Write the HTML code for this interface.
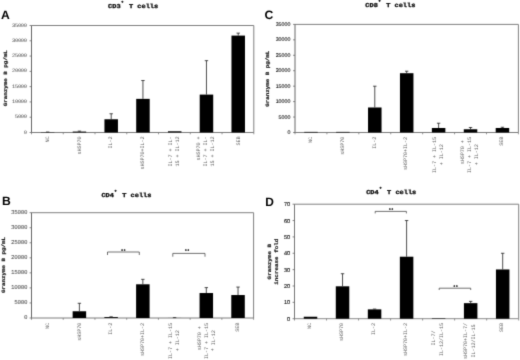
<!DOCTYPE html>
<html><head><meta charset="utf-8"><title>Granzyme B bar charts</title><style>
html,body{margin:0;padding:0;background:#fff;overflow:hidden}
svg{display:block;filter:grayscale(1)}
text{text-rendering:geometricPrecision}
</style></head><body>
<svg width="520" height="360" viewBox="0 0 520 360">
<defs><filter id="bl" x="0" y="0" width="520" height="360" filterUnits="userSpaceOnUse" color-interpolation-filters="sRGB"><feConvolveMatrix order="3" kernelMatrix="0.0144 0.0912 0.0144 0.0912 0.5776 0.0912 0.0144 0.0912 0.0144" edgeMode="duplicate"/></filter></defs>
<g filter="url(#bl)">
<rect x="-10" y="-10" width="540" height="380" fill="#fff"/>
<path d="M31.5 25.5H253.8V132.5" fill="none" stroke="#808080" stroke-width="1"/>
<path d="M31.5 25.5V133.0" fill="none" stroke="#666" stroke-width="1"/>
<path d="M31.0 132.5H253.8" fill="none" stroke="#7c7c7c" stroke-width="1"/>
<path d="M29.6 132.50H31.5" stroke="#666" stroke-width="0.8"/>
<text transform="translate(26.90 133.60) rotate(0.03) scale(0.1000 0.1)" x="-30.9" y="0" font-family='"Liberation Mono", monospace' font-weight="normal" font-size="53.9" fill="#444" xml:space="preserve" >0</text>
<path d="M29.6 117.21H31.5" stroke="#666" stroke-width="0.8"/>
<text transform="translate(26.90 118.31) rotate(0.03) scale(0.1000 0.1)" x="-119.1 -89.7 -60.3 -30.9" y="0" font-family='"Liberation Mono", monospace' font-weight="normal" font-size="53.9" fill="#444" xml:space="preserve" >5000</text>
<path d="M29.6 101.93H31.5" stroke="#666" stroke-width="0.8"/>
<text transform="translate(26.90 103.03) rotate(0.03) scale(0.1000 0.1)" x="-148.5 -119.1 -89.7 -60.3 -30.9" y="0" font-family='"Liberation Mono", monospace' font-weight="normal" font-size="53.9" fill="#444" xml:space="preserve" >10000</text>
<path d="M29.6 86.64H31.5" stroke="#666" stroke-width="0.8"/>
<text transform="translate(26.90 87.74) rotate(0.03) scale(0.1000 0.1)" x="-148.5 -119.1 -89.7 -60.3 -30.9" y="0" font-family='"Liberation Mono", monospace' font-weight="normal" font-size="53.9" fill="#444" xml:space="preserve" >15000</text>
<path d="M29.6 71.36H31.5" stroke="#666" stroke-width="0.8"/>
<text transform="translate(26.90 72.46) rotate(0.03) scale(0.1000 0.1)" x="-148.5 -119.1 -89.7 -60.3 -30.9" y="0" font-family='"Liberation Mono", monospace' font-weight="normal" font-size="53.9" fill="#444" xml:space="preserve" >20000</text>
<path d="M29.6 56.07H31.5" stroke="#666" stroke-width="0.8"/>
<text transform="translate(26.90 57.17) rotate(0.03) scale(0.1000 0.1)" x="-148.5 -119.1 -89.7 -60.3 -30.9" y="0" font-family='"Liberation Mono", monospace' font-weight="normal" font-size="53.9" fill="#444" xml:space="preserve" >25000</text>
<path d="M29.6 40.79H31.5" stroke="#666" stroke-width="0.8"/>
<text transform="translate(26.90 41.89) rotate(0.03) scale(0.1000 0.1)" x="-148.5 -119.1 -89.7 -60.3 -30.9" y="0" font-family='"Liberation Mono", monospace' font-weight="normal" font-size="53.9" fill="#444" xml:space="preserve" >30000</text>
<path d="M29.6 25.50H31.5" stroke="#666" stroke-width="0.8"/>
<text transform="translate(26.90 26.60) rotate(0.03) scale(0.1000 0.1)" x="-148.5 -119.1 -89.7 -60.3 -30.9" y="0" font-family='"Liberation Mono", monospace' font-weight="normal" font-size="53.9" fill="#444" xml:space="preserve" >35000</text>
<path d="M31.50 132.5V134.3" stroke="#777" stroke-width="0.8"/>
<path d="M63.26 132.5V134.3" stroke="#777" stroke-width="0.8"/>
<path d="M95.01 132.5V134.3" stroke="#777" stroke-width="0.8"/>
<path d="M126.77 132.5V134.3" stroke="#777" stroke-width="0.8"/>
<path d="M158.53 132.5V134.3" stroke="#777" stroke-width="0.8"/>
<path d="M190.29 132.5V134.3" stroke="#777" stroke-width="0.8"/>
<path d="M222.04 132.5V134.3" stroke="#777" stroke-width="0.8"/>
<path d="M253.80 132.5V134.3" stroke="#777" stroke-width="0.8"/>
<rect x="40.93" y="132.19" width="13.5" height="0.31" fill="#000"/>
<path d="M47.68 132.19V132.04M45.98 132.04H49.38" stroke="#222" stroke-width="0.8" fill="none"/>
<rect x="72.69" y="131.58" width="13.5" height="0.92" fill="#000"/>
<path d="M79.44 131.58V131.12M77.74 131.12H81.14" stroke="#222" stroke-width="0.8" fill="none"/>
<rect x="104.44" y="119.26" width="13.5" height="13.24" fill="#000"/>
<path d="M111.19 119.26V113.76M109.49 113.76H112.89" stroke="#222" stroke-width="0.8" fill="none"/>
<rect x="136.20" y="98.87" width="13.5" height="33.63" fill="#000"/>
<path d="M142.95 98.87V80.53M141.25 80.53H144.65" stroke="#222" stroke-width="0.8" fill="none"/>
<rect x="167.96" y="131.28" width="13.5" height="1.22" fill="#000"/>
<rect x="199.71" y="94.59" width="13.5" height="37.91" fill="#000"/>
<path d="M206.46 94.59V60.66M204.76 60.66H208.16" stroke="#222" stroke-width="0.8" fill="none"/>
<rect x="231.47" y="35.59" width="13.5" height="96.91" fill="#000"/>
<path d="M238.22 35.59V33.14M236.52 33.14H239.92" stroke="#222" stroke-width="0.8" fill="none"/>
<text transform="translate(48.98 136.40) rotate(-89.97) scale(0.1000 0.1)" x="-60.8 -30.8" y="0" font-family='"Liberation Mono", monospace' font-weight="normal" font-size="52.5" fill="#666" xml:space="preserve" >NC</text>
<text transform="translate(80.74 136.40) rotate(-89.97) scale(0.1000 0.1)" x="-180.7 -150.7 -120.7 -90.7 -60.7 -30.7" y="0" font-family='"Liberation Mono", monospace' font-weight="normal" font-size="52.5" fill="#666" xml:space="preserve" >sHSP70</text>
<text transform="translate(112.49 136.40) rotate(-89.97) scale(0.1000 0.1)" x="-120.7 -90.7 -60.7 -30.7" y="0" font-family='"Liberation Mono", monospace' font-weight="normal" font-size="52.5" fill="#666" xml:space="preserve" >IL-2</text>
<text transform="translate(144.25 136.40) rotate(-89.97) scale(0.1000 0.1)" x="-330.8 -300.8 -270.8 -240.8 -210.8 -180.8 -150.8 -120.8 -90.8 -60.8 -30.8" y="0" font-family='"Liberation Mono", monospace' font-weight="normal" font-size="52.5" fill="#666" xml:space="preserve" >sHSP70+IL-2</text>
<text transform="translate(171.96 136.40) rotate(-89.97) scale(0.1000 0.1)" x="-300.8 -270.8 -240.7 -210.7 -180.7 -150.7 -120.7 -90.7 -60.7 -30.7" y="0" font-family='"Liberation Mono", monospace' font-weight="normal" font-size="52.5" fill="#666" xml:space="preserve" >IL-7 + IL-</text>
<text transform="translate(178.86 136.40) rotate(-89.97) scale(0.1000 0.1)" x="-300.8 -270.8 -240.7 -210.7 -180.7 -150.7 -120.7 -90.7 -60.7 -30.7" y="0" font-family='"Liberation Mono", monospace' font-weight="normal" font-size="52.5" fill="#666" xml:space="preserve" >15 + IL-12</text>
<text transform="translate(200.26 136.40) rotate(-89.97) scale(0.1000 0.1)" x="-240.7 -210.7 -180.7 -150.7 -120.7 -90.7 -60.7 -30.7" y="0" font-family='"Liberation Mono", monospace' font-weight="normal" font-size="52.5" fill="#666" xml:space="preserve" >sHSP70 +</text>
<text transform="translate(207.16 136.40) rotate(-89.97) scale(0.1000 0.1)" x="-300.8 -270.8 -240.7 -210.7 -180.7 -150.7 -120.7 -90.7 -60.7 -30.7" y="0" font-family='"Liberation Mono", monospace' font-weight="normal" font-size="52.5" fill="#666" xml:space="preserve" >IL-7 + IL-</text>
<text transform="translate(214.06 136.40) rotate(-89.97) scale(0.1000 0.1)" x="-300.8 -270.8 -240.7 -210.7 -180.7 -150.7 -120.7 -90.7 -60.7 -30.7" y="0" font-family='"Liberation Mono", monospace' font-weight="normal" font-size="52.5" fill="#666" xml:space="preserve" >15 + IL-12</text>
<text transform="translate(239.52 136.40) rotate(-89.97) scale(0.1000 0.1)" x="-90.7 -60.7 -30.7" y="0" font-family='"Liberation Mono", monospace' font-weight="normal" font-size="52.5" fill="#666" xml:space="preserve" >SEB</text>
<text transform="translate(108.10 8.30) rotate(0.03) scale(0.1150 0.1)" x="0.1 36.3 72.6" y="0" font-family='"Liberation Mono", monospace' font-weight="bold" font-size="60.3" fill="#111" xml:space="preserve"  stroke="#111" stroke-width="3.2">CD3</text>
<text transform="translate(122.36 3.30) rotate(0.03) scale(0.1000 0.1)" x="-10.8" y="0" font-family='"Liberation Mono", monospace' font-weight="bold" font-size="36.2" fill="#111" xml:space="preserve"  stroke="#111" stroke-width="3.2">+</text>
<text transform="translate(124.78 8.30) rotate(0.03) scale(0.1150 0.1)" x="0.1 36.3 72.6 108.8 145.1 181.4 217.6 253.9" y="0" font-family='"Liberation Mono", monospace' font-weight="bold" font-size="60.3" fill="#111" xml:space="preserve"  stroke="#111" stroke-width="3.2"> T cells</text>
<text transform="translate(0.90 19.20) rotate(0.03) scale(0.1)" font-family='"Liberation Sans", sans-serif' font-weight="bold" font-size="122.0" fill="#000" text-anchor="start">A</text>
<text transform="translate(6.80 78.20) rotate(-89.97) scale(0.1150 0.1)" x="-243.3 -212.9 -182.5 -152.0 -121.6 -91.2 -60.8 -30.4 0.0 30.5 60.9 91.3 121.7 152.1 182.5 213.0" y="0" font-family='"Liberation Mono", monospace' font-weight="bold" font-size="50.5" fill="#222" xml:space="preserve"  stroke="#222" stroke-width="2.0">Granzyme B pg/mL</text>
<path d="M295 24.4H518.4V132.5" fill="none" stroke="#808080" stroke-width="1"/>
<path d="M295 24.4V133.0" fill="none" stroke="#666" stroke-width="1"/>
<path d="M294.5 132.5H518.4" fill="none" stroke="#7c7c7c" stroke-width="1"/>
<path d="M293.1 132.50H295" stroke="#666" stroke-width="0.8"/>
<text transform="translate(290.40 134.00) rotate(0.03) scale(0.1)" font-family='"Liberation Sans", sans-serif' font-weight="normal" font-size="53.0" fill="#111" text-anchor="end" stroke="#111" stroke-width="1.0">0</text>
<path d="M293.1 117.06H295" stroke="#666" stroke-width="0.8"/>
<text transform="translate(290.40 118.56) rotate(0.03) scale(0.1)" font-family='"Liberation Sans", sans-serif' font-weight="normal" font-size="53.0" fill="#111" text-anchor="end" stroke="#111" stroke-width="1.0">5000</text>
<path d="M293.1 101.61H295" stroke="#666" stroke-width="0.8"/>
<text transform="translate(290.40 103.11) rotate(0.03) scale(0.1)" font-family='"Liberation Sans", sans-serif' font-weight="normal" font-size="53.0" fill="#111" text-anchor="end" stroke="#111" stroke-width="1.0">10000</text>
<path d="M293.1 86.17H295" stroke="#666" stroke-width="0.8"/>
<text transform="translate(290.40 87.67) rotate(0.03) scale(0.1)" font-family='"Liberation Sans", sans-serif' font-weight="normal" font-size="53.0" fill="#111" text-anchor="end" stroke="#111" stroke-width="1.0">15000</text>
<path d="M293.1 70.73H295" stroke="#666" stroke-width="0.8"/>
<text transform="translate(290.40 72.23) rotate(0.03) scale(0.1)" font-family='"Liberation Sans", sans-serif' font-weight="normal" font-size="53.0" fill="#111" text-anchor="end" stroke="#111" stroke-width="1.0">20000</text>
<path d="M293.1 55.29H295" stroke="#666" stroke-width="0.8"/>
<text transform="translate(290.40 56.79) rotate(0.03) scale(0.1)" font-family='"Liberation Sans", sans-serif' font-weight="normal" font-size="53.0" fill="#111" text-anchor="end" stroke="#111" stroke-width="1.0">25000</text>
<path d="M293.1 39.84H295" stroke="#666" stroke-width="0.8"/>
<text transform="translate(290.40 41.34) rotate(0.03) scale(0.1)" font-family='"Liberation Sans", sans-serif' font-weight="normal" font-size="53.0" fill="#111" text-anchor="end" stroke="#111" stroke-width="1.0">30000</text>
<path d="M293.1 24.40H295" stroke="#666" stroke-width="0.8"/>
<text transform="translate(290.40 25.90) rotate(0.03) scale(0.1)" font-family='"Liberation Sans", sans-serif' font-weight="normal" font-size="53.0" fill="#111" text-anchor="end" stroke="#111" stroke-width="1.0">35000</text>
<path d="M295.00 132.5V134.3" stroke="#777" stroke-width="0.8"/>
<path d="M326.91 132.5V134.3" stroke="#777" stroke-width="0.8"/>
<path d="M358.83 132.5V134.3" stroke="#777" stroke-width="0.8"/>
<path d="M390.74 132.5V134.3" stroke="#777" stroke-width="0.8"/>
<path d="M422.66 132.5V134.3" stroke="#777" stroke-width="0.8"/>
<path d="M454.57 132.5V134.3" stroke="#777" stroke-width="0.8"/>
<path d="M486.49 132.5V134.3" stroke="#777" stroke-width="0.8"/>
<path d="M518.40 132.5V134.3" stroke="#777" stroke-width="0.8"/>
<rect x="304.21" y="131.88" width="13.5" height="0.62" fill="#000"/>
<rect x="336.12" y="131.88" width="13.5" height="0.62" fill="#000"/>
<rect x="368.04" y="107.48" width="13.5" height="25.02" fill="#000"/>
<path d="M374.79 107.48V86.20M373.09 86.20H376.49" stroke="#222" stroke-width="0.8" fill="none"/>
<rect x="399.95" y="73.20" width="13.5" height="59.30" fill="#000"/>
<path d="M406.70 73.20V71.19M405.00 71.19H408.40" stroke="#222" stroke-width="0.8" fill="none"/>
<rect x="431.86" y="127.99" width="13.5" height="4.51" fill="#000"/>
<path d="M438.61 127.99V123.23M436.91 123.23H440.31" stroke="#222" stroke-width="0.8" fill="none"/>
<rect x="463.78" y="129.26" width="13.5" height="3.24" fill="#000"/>
<path d="M470.53 129.26V127.50M468.83 127.50H472.23" stroke="#222" stroke-width="0.8" fill="none"/>
<rect x="495.69" y="127.99" width="13.5" height="4.51" fill="#000"/>
<path d="M502.44 127.99V127.25M500.74 127.25H504.14" stroke="#222" stroke-width="0.8" fill="none"/>
<text transform="translate(311.76 136.80) rotate(-89.97) scale(0.1000 0.1)" x="-60.8 -30.8" y="0" font-family='"Liberation Mono", monospace' font-weight="normal" font-size="52.5" fill="#666" xml:space="preserve" >NC</text>
<text transform="translate(343.67 136.80) rotate(-89.97) scale(0.1000 0.1)" x="-180.7 -150.7 -120.7 -90.7 -60.7 -30.7" y="0" font-family='"Liberation Mono", monospace' font-weight="normal" font-size="52.5" fill="#666" xml:space="preserve" >sHSP70</text>
<text transform="translate(375.59 136.80) rotate(-89.97) scale(0.1000 0.1)" x="-120.7 -90.7 -60.7 -30.7" y="0" font-family='"Liberation Mono", monospace' font-weight="normal" font-size="52.5" fill="#666" xml:space="preserve" >IL-2</text>
<text transform="translate(407.50 136.80) rotate(-89.97) scale(0.1000 0.1)" x="-330.8 -300.8 -270.8 -240.8 -210.8 -180.8 -150.8 -120.8 -90.8 -60.8 -30.8" y="0" font-family='"Liberation Mono", monospace' font-weight="normal" font-size="52.5" fill="#666" xml:space="preserve" >sHSP70+IL-2</text>
<text transform="translate(435.96 136.80) rotate(-89.97) scale(0.1000 0.1)" x="-360.8 -330.8 -300.8 -270.8 -240.8 -210.8 -180.8 -150.8 -120.8 -90.8 -60.8 -30.8" y="0" font-family='"Liberation Mono", monospace' font-weight="normal" font-size="52.5" fill="#666" xml:space="preserve" >IL-7 + IL-15</text>
<text transform="translate(442.86 144.30) rotate(-89.97) scale(0.1000 0.1)" x="-210.7 -180.7 -150.7 -120.7 -90.7 -60.7 -30.7" y="0" font-family='"Liberation Mono", monospace' font-weight="normal" font-size="52.5" fill="#666" xml:space="preserve" >+ IL-12</text>
<text transform="translate(464.43 140.20) rotate(-89.97) scale(0.1000 0.1)" x="-240.7 -210.7 -180.7 -150.7 -120.7 -90.7 -60.7 -30.7" y="0" font-family='"Liberation Mono", monospace' font-weight="normal" font-size="52.5" fill="#666" xml:space="preserve" >sHSP70 +</text>
<text transform="translate(471.33 136.80) rotate(-89.97) scale(0.1000 0.1)" x="-360.8 -330.8 -300.8 -270.8 -240.8 -210.8 -180.8 -150.8 -120.8 -90.8 -60.8 -30.8" y="0" font-family='"Liberation Mono", monospace' font-weight="normal" font-size="52.5" fill="#666" xml:space="preserve" >IL-7 + IL-15</text>
<text transform="translate(478.23 144.30) rotate(-89.97) scale(0.1000 0.1)" x="-210.7 -180.7 -150.7 -120.7 -90.7 -60.7 -30.7" y="0" font-family='"Liberation Mono", monospace' font-weight="normal" font-size="52.5" fill="#666" xml:space="preserve" >+ IL-12</text>
<text transform="translate(503.24 136.80) rotate(-89.97) scale(0.1000 0.1)" x="-90.7 -60.7 -30.7" y="0" font-family='"Liberation Mono", monospace' font-weight="normal" font-size="52.5" fill="#666" xml:space="preserve" >SEB</text>
<text transform="translate(365.30 6.80) rotate(0.03) scale(0.1150 0.1)" x="0.1 36.3 72.6" y="0" font-family='"Liberation Mono", monospace' font-weight="bold" font-size="60.3" fill="#111" xml:space="preserve"  stroke="#111" stroke-width="3.2">CD8</text>
<text transform="translate(379.56 2.50) rotate(0.03) scale(0.1000 0.1)" x="-10.8" y="0" font-family='"Liberation Mono", monospace' font-weight="bold" font-size="36.2" fill="#111" xml:space="preserve"  stroke="#111" stroke-width="3.2">+</text>
<text transform="translate(381.98 6.80) rotate(0.03) scale(0.1150 0.1)" x="0.1 36.3 72.6 108.8 145.1 181.4 217.6 253.9" y="0" font-family='"Liberation Mono", monospace' font-weight="bold" font-size="60.3" fill="#111" xml:space="preserve"  stroke="#111" stroke-width="3.2"> T cells</text>
<text transform="translate(264.60 18.50) rotate(0.03) scale(0.1)" font-family='"Liberation Sans", sans-serif' font-weight="bold" font-size="122.0" fill="#000" text-anchor="start">C</text>
<text transform="translate(269.40 78.70) rotate(-89.97) scale(0.1150 0.1)" x="-243.3 -212.9 -182.5 -152.0 -121.6 -91.2 -60.8 -30.4 0.0 30.5 60.9 91.3 121.7 152.1 182.5 213.0" y="0" font-family='"Liberation Mono", monospace' font-weight="bold" font-size="50.5" fill="#222" xml:space="preserve"  stroke="#222" stroke-width="2.0">Granzyme B pg/mL</text>
<path d="M31.5 212.7H253.6V318" fill="none" stroke="#808080" stroke-width="1"/>
<path d="M31.5 212.7V318.5" fill="none" stroke="#666" stroke-width="1"/>
<path d="M31.0 318H253.6" fill="none" stroke="#7c7c7c" stroke-width="1"/>
<path d="M29.6 318.00H31.5" stroke="#666" stroke-width="0.8"/>
<text transform="translate(27.30 319.50) rotate(0.03) scale(0.1000 0.1)" x="-34.0" y="0" font-family='"Liberation Mono", monospace' font-weight="normal" font-size="59.4" fill="#444" xml:space="preserve" >0</text>
<path d="M29.6 302.96H31.5" stroke="#666" stroke-width="0.8"/>
<text transform="translate(27.30 304.46) rotate(0.03) scale(0.1000 0.1)" x="-131.2 -98.8 -66.4 -34.0" y="0" font-family='"Liberation Mono", monospace' font-weight="normal" font-size="59.4" fill="#444" xml:space="preserve" >5000</text>
<path d="M29.6 287.91H31.5" stroke="#666" stroke-width="0.8"/>
<text transform="translate(27.30 289.41) rotate(0.03) scale(0.1000 0.1)" x="-163.6 -131.2 -98.8 -66.4 -34.0" y="0" font-family='"Liberation Mono", monospace' font-weight="normal" font-size="59.4" fill="#444" xml:space="preserve" >10000</text>
<path d="M29.6 272.87H31.5" stroke="#666" stroke-width="0.8"/>
<text transform="translate(27.30 274.37) rotate(0.03) scale(0.1000 0.1)" x="-163.6 -131.2 -98.8 -66.4 -34.0" y="0" font-family='"Liberation Mono", monospace' font-weight="normal" font-size="59.4" fill="#444" xml:space="preserve" >15000</text>
<path d="M29.6 257.83H31.5" stroke="#666" stroke-width="0.8"/>
<text transform="translate(27.30 259.33) rotate(0.03) scale(0.1000 0.1)" x="-163.6 -131.2 -98.8 -66.4 -34.0" y="0" font-family='"Liberation Mono", monospace' font-weight="normal" font-size="59.4" fill="#444" xml:space="preserve" >20000</text>
<path d="M29.6 242.79H31.5" stroke="#666" stroke-width="0.8"/>
<text transform="translate(27.30 244.29) rotate(0.03) scale(0.1000 0.1)" x="-163.6 -131.2 -98.8 -66.4 -34.0" y="0" font-family='"Liberation Mono", monospace' font-weight="normal" font-size="59.4" fill="#444" xml:space="preserve" >25000</text>
<path d="M29.6 227.74H31.5" stroke="#666" stroke-width="0.8"/>
<text transform="translate(27.30 229.24) rotate(0.03) scale(0.1000 0.1)" x="-163.6 -131.2 -98.8 -66.4 -34.0" y="0" font-family='"Liberation Mono", monospace' font-weight="normal" font-size="59.4" fill="#444" xml:space="preserve" >30000</text>
<path d="M29.6 212.70H31.5" stroke="#666" stroke-width="0.8"/>
<text transform="translate(27.30 214.20) rotate(0.03) scale(0.1000 0.1)" x="-163.6 -131.2 -98.8 -66.4 -34.0" y="0" font-family='"Liberation Mono", monospace' font-weight="normal" font-size="59.4" fill="#444" xml:space="preserve" >35000</text>
<path d="M31.50 318V319.8" stroke="#777" stroke-width="0.8"/>
<path d="M63.23 318V319.8" stroke="#777" stroke-width="0.8"/>
<path d="M94.96 318V319.8" stroke="#777" stroke-width="0.8"/>
<path d="M126.69 318V319.8" stroke="#777" stroke-width="0.8"/>
<path d="M158.41 318V319.8" stroke="#777" stroke-width="0.8"/>
<path d="M190.14 318V319.8" stroke="#777" stroke-width="0.8"/>
<path d="M221.87 318V319.8" stroke="#777" stroke-width="0.8"/>
<path d="M253.60 318V319.8" stroke="#777" stroke-width="0.8"/>
<rect x="72.64" y="311.26" width="13.5" height="6.74" fill="#000"/>
<path d="M79.39 311.26V303.29M77.69 303.29H81.09" stroke="#222" stroke-width="0.8" fill="none"/>
<rect x="104.37" y="317.10" width="13.5" height="0.90" fill="#000"/>
<path d="M111.12 317.10V316.80M109.42 316.80H112.82" stroke="#222" stroke-width="0.8" fill="none"/>
<rect x="136.10" y="284.30" width="13.5" height="33.70" fill="#000"/>
<path d="M142.85 284.30V279.34M141.15 279.34H144.55" stroke="#222" stroke-width="0.8" fill="none"/>
<rect x="167.83" y="317.94" width="13.5" height="0.06" fill="#000"/>
<path d="M174.58 317.94V317.61M172.88 317.61H176.28" stroke="#222" stroke-width="0.8" fill="none"/>
<rect x="199.56" y="293.03" width="13.5" height="24.97" fill="#000"/>
<path d="M206.31 293.03V287.61M204.61 287.61H208.01" stroke="#222" stroke-width="0.8" fill="none"/>
<rect x="231.29" y="295.04" width="13.5" height="22.96" fill="#000"/>
<path d="M238.04 295.04V287.07M236.34 287.07H239.74" stroke="#222" stroke-width="0.8" fill="none"/>
<text transform="translate(48.96 322.80) rotate(-89.97) scale(0.1000 0.1)" x="-60.8 -30.8" y="0" font-family='"Liberation Mono", monospace' font-weight="normal" font-size="52.5" fill="#666" xml:space="preserve" >NC</text>
<text transform="translate(80.69 322.80) rotate(-89.97) scale(0.1000 0.1)" x="-180.7 -150.7 -120.7 -90.7 -60.7 -30.7" y="0" font-family='"Liberation Mono", monospace' font-weight="normal" font-size="52.5" fill="#666" xml:space="preserve" >sHSP70</text>
<text transform="translate(112.42 322.80) rotate(-89.97) scale(0.1000 0.1)" x="-120.7 -90.7 -60.7 -30.7" y="0" font-family='"Liberation Mono", monospace' font-weight="normal" font-size="52.5" fill="#666" xml:space="preserve" >IL-2</text>
<text transform="translate(144.15 322.80) rotate(-89.97) scale(0.1000 0.1)" x="-330.8 -300.8 -270.8 -240.8 -210.8 -180.8 -150.8 -120.8 -90.8 -60.8 -30.8" y="0" font-family='"Liberation Mono", monospace' font-weight="normal" font-size="52.5" fill="#666" xml:space="preserve" >sHSP70+IL-2</text>
<text transform="translate(172.43 322.80) rotate(-89.97) scale(0.1000 0.1)" x="-360.8 -330.8 -300.8 -270.8 -240.8 -210.8 -180.8 -150.8 -120.8 -90.8 -60.8 -30.8" y="0" font-family='"Liberation Mono", monospace' font-weight="normal" font-size="52.5" fill="#666" xml:space="preserve" >IL-7 + IL-15</text>
<text transform="translate(179.33 330.30) rotate(-89.97) scale(0.1000 0.1)" x="-210.7 -180.7 -150.7 -120.7 -90.7 -60.7 -30.7" y="0" font-family='"Liberation Mono", monospace' font-weight="normal" font-size="52.5" fill="#666" xml:space="preserve" >+ IL-12</text>
<text transform="translate(200.71 326.20) rotate(-89.97) scale(0.1000 0.1)" x="-240.7 -210.7 -180.7 -150.7 -120.7 -90.7 -60.7 -30.7" y="0" font-family='"Liberation Mono", monospace' font-weight="normal" font-size="52.5" fill="#666" xml:space="preserve" >sHSP70 +</text>
<text transform="translate(207.61 322.80) rotate(-89.97) scale(0.1000 0.1)" x="-360.8 -330.8 -300.8 -270.8 -240.8 -210.8 -180.8 -150.8 -120.8 -90.8 -60.8 -30.8" y="0" font-family='"Liberation Mono", monospace' font-weight="normal" font-size="52.5" fill="#666" xml:space="preserve" >IL-7 + IL-15</text>
<text transform="translate(214.51 330.30) rotate(-89.97) scale(0.1000 0.1)" x="-210.7 -180.7 -150.7 -120.7 -90.7 -60.7 -30.7" y="0" font-family='"Liberation Mono", monospace' font-weight="normal" font-size="52.5" fill="#666" xml:space="preserve" >+ IL-12</text>
<text transform="translate(239.34 322.80) rotate(-89.97) scale(0.1000 0.1)" x="-90.7 -60.7 -30.7" y="0" font-family='"Liberation Mono", monospace' font-weight="normal" font-size="52.5" fill="#666" xml:space="preserve" >SEB</text>
<text transform="translate(101.40 197.00) rotate(0.03) scale(0.1150 0.1)" x="0.1 36.3 72.6" y="0" font-family='"Liberation Mono", monospace' font-weight="bold" font-size="60.3" fill="#111" xml:space="preserve"  stroke="#111" stroke-width="3.2">CD4</text>
<text transform="translate(115.66 192.00) rotate(0.03) scale(0.1000 0.1)" x="-10.8" y="0" font-family='"Liberation Mono", monospace' font-weight="bold" font-size="36.2" fill="#111" xml:space="preserve"  stroke="#111" stroke-width="3.2">+</text>
<text transform="translate(118.08 197.00) rotate(0.03) scale(0.1150 0.1)" x="0.1 36.3 72.6 108.8 145.1 181.4 217.6 253.9" y="0" font-family='"Liberation Mono", monospace' font-weight="bold" font-size="60.3" fill="#111" xml:space="preserve"  stroke="#111" stroke-width="3.2"> T cells</text>
<text transform="translate(1.90 205.00) rotate(0.03) scale(0.1)" font-family='"Liberation Sans", sans-serif' font-weight="bold" font-size="122.0" fill="#000" text-anchor="start">B</text>
<text transform="translate(5.00 265.00) rotate(-89.97) scale(0.1150 0.1)" x="-243.3 -212.9 -182.5 -152.0 -121.6 -91.2 -60.8 -30.4 0.0 30.5 60.9 91.3 121.7 152.1 182.5 213.0" y="0" font-family='"Liberation Mono", monospace' font-weight="bold" font-size="50.5" fill="#222" xml:space="preserve"  stroke="#222" stroke-width="2.0">Granzyme B pg/mL</text>
<path d="M107.5 255V252H139.3V255" fill="none" stroke="#333" stroke-width="0.7"/>
<text transform="translate(123.40 251.60) rotate(0.03) scale(0.1000 0.1)" x="-23.5 1.7" y="0" font-family='"Liberation Mono", monospace' font-weight="bold" font-size="36.4" fill="#222" xml:space="preserve"  stroke="#222" stroke-width="3.2">**</text>
<path d="M172.8 256.7V253.4H205V256.7" fill="none" stroke="#333" stroke-width="0.7"/>
<text transform="translate(187.00 252.40) rotate(0.03) scale(0.1000 0.1)" x="-23.5 1.7" y="0" font-family='"Liberation Mono", monospace' font-weight="bold" font-size="36.4" fill="#222" xml:space="preserve"  stroke="#222" stroke-width="3.2">**</text>
<path d="M294.5 204.2H518.7V318.7" fill="none" stroke="#808080" stroke-width="1"/>
<path d="M294.5 204.2V319.2" fill="none" stroke="#777" stroke-width="1"/>
<path d="M294.0 318.7H518.7" fill="none" stroke="#8a8a8a" stroke-width="1"/>
<path d="M292.6 318.70H294.5" stroke="#666" stroke-width="0.8"/>
<text transform="translate(290.20 320.70) rotate(0.03) scale(0.1)" font-family='"Liberation Sans", sans-serif' font-weight="normal" font-size="56.0" fill="#111" text-anchor="end" stroke="#111" stroke-width="1.0">0</text>
<path d="M292.6 302.34H294.5" stroke="#666" stroke-width="0.8"/>
<text transform="translate(290.20 304.34) rotate(0.03) scale(0.1)" font-family='"Liberation Sans", sans-serif' font-weight="normal" font-size="56.0" fill="#111" text-anchor="end" stroke="#111" stroke-width="1.0">10</text>
<path d="M292.6 285.99H294.5" stroke="#666" stroke-width="0.8"/>
<text transform="translate(290.20 287.99) rotate(0.03) scale(0.1)" font-family='"Liberation Sans", sans-serif' font-weight="normal" font-size="56.0" fill="#111" text-anchor="end" stroke="#111" stroke-width="1.0">20</text>
<path d="M292.6 269.63H294.5" stroke="#666" stroke-width="0.8"/>
<text transform="translate(290.20 271.63) rotate(0.03) scale(0.1)" font-family='"Liberation Sans", sans-serif' font-weight="normal" font-size="56.0" fill="#111" text-anchor="end" stroke="#111" stroke-width="1.0">30</text>
<path d="M292.6 253.27H294.5" stroke="#666" stroke-width="0.8"/>
<text transform="translate(290.20 255.27) rotate(0.03) scale(0.1)" font-family='"Liberation Sans", sans-serif' font-weight="normal" font-size="56.0" fill="#111" text-anchor="end" stroke="#111" stroke-width="1.0">40</text>
<path d="M292.6 236.91H294.5" stroke="#666" stroke-width="0.8"/>
<text transform="translate(290.20 238.91) rotate(0.03) scale(0.1)" font-family='"Liberation Sans", sans-serif' font-weight="normal" font-size="56.0" fill="#111" text-anchor="end" stroke="#111" stroke-width="1.0">50</text>
<path d="M292.6 220.56H294.5" stroke="#666" stroke-width="0.8"/>
<text transform="translate(290.20 222.56) rotate(0.03) scale(0.1)" font-family='"Liberation Sans", sans-serif' font-weight="normal" font-size="56.0" fill="#111" text-anchor="end" stroke="#111" stroke-width="1.0">60</text>
<path d="M292.6 204.20H294.5" stroke="#666" stroke-width="0.8"/>
<text transform="translate(290.20 206.20) rotate(0.03) scale(0.1)" font-family='"Liberation Sans", sans-serif' font-weight="normal" font-size="56.0" fill="#111" text-anchor="end" stroke="#111" stroke-width="1.0">70</text>
<path d="M294.50 318.7V320.5" stroke="#777" stroke-width="0.8"/>
<path d="M326.53 318.7V320.5" stroke="#777" stroke-width="0.8"/>
<path d="M358.56 318.7V320.5" stroke="#777" stroke-width="0.8"/>
<path d="M390.59 318.7V320.5" stroke="#777" stroke-width="0.8"/>
<path d="M422.61 318.7V320.5" stroke="#777" stroke-width="0.8"/>
<path d="M454.64 318.7V320.5" stroke="#777" stroke-width="0.8"/>
<path d="M486.67 318.7V320.5" stroke="#777" stroke-width="0.8"/>
<path d="M518.70 318.7V320.5" stroke="#777" stroke-width="0.8"/>
<rect x="303.76" y="316.74" width="13.5" height="1.96" fill="#000"/>
<rect x="335.79" y="286.31" width="13.5" height="32.39" fill="#000"/>
<path d="M342.54 286.31V273.72M340.84 273.72H344.24" stroke="#222" stroke-width="0.8" fill="none"/>
<rect x="367.82" y="309.38" width="13.5" height="9.32" fill="#000"/>
<path d="M374.57 309.38V309.05M372.87 309.05H376.27" stroke="#222" stroke-width="0.8" fill="none"/>
<rect x="399.85" y="256.71" width="13.5" height="61.99" fill="#000"/>
<path d="M406.60 256.71V220.56M404.90 220.56H408.30" stroke="#222" stroke-width="0.8" fill="none"/>
<rect x="431.88" y="318.21" width="13.5" height="0.49" fill="#000"/>
<rect x="463.91" y="303.16" width="13.5" height="15.54" fill="#000"/>
<path d="M470.66 303.16V301.36M468.96 301.36H472.36" stroke="#222" stroke-width="0.8" fill="none"/>
<rect x="495.94" y="269.46" width="13.5" height="49.24" fill="#000"/>
<path d="M502.69 269.46V253.27M500.99 253.27H504.39" stroke="#222" stroke-width="0.8" fill="none"/>
<text transform="translate(311.21 323.00) rotate(-89.97) scale(0.1000 0.1)" x="-60.8 -30.8" y="0" font-family='"Liberation Mono", monospace' font-weight="normal" font-size="52.5" fill="#666" xml:space="preserve" >NC</text>
<text transform="translate(343.24 323.00) rotate(-89.97) scale(0.1000 0.1)" x="-180.7 -150.7 -120.7 -90.7 -60.7 -30.7" y="0" font-family='"Liberation Mono", monospace' font-weight="normal" font-size="52.5" fill="#666" xml:space="preserve" >sHSP70</text>
<text transform="translate(375.27 323.00) rotate(-89.97) scale(0.1000 0.1)" x="-120.7 -90.7 -60.7 -30.7" y="0" font-family='"Liberation Mono", monospace' font-weight="normal" font-size="52.5" fill="#666" xml:space="preserve" >IL-2</text>
<text transform="translate(407.30 323.00) rotate(-89.97) scale(0.1000 0.1)" x="-330.8 -300.8 -270.8 -240.8 -210.8 -180.8 -150.8 -120.8 -90.8 -60.8 -30.8" y="0" font-family='"Liberation Mono", monospace' font-weight="normal" font-size="52.5" fill="#666" xml:space="preserve" >sHSP70+IL-2</text>
<text transform="translate(435.43 330.50) rotate(-89.97) scale(0.1000 0.1)" x="-150.7 -120.7 -90.7 -60.7 -30.7" y="0" font-family='"Liberation Mono", monospace' font-weight="normal" font-size="52.5" fill="#666" xml:space="preserve" >IL-7/</text>
<text transform="translate(443.23 323.00) rotate(-89.97) scale(0.1000 0.1)" x="-330.8 -300.8 -270.8 -240.8 -210.8 -180.8 -150.8 -120.8 -90.8 -60.8 -30.8" y="0" font-family='"Liberation Mono", monospace' font-weight="normal" font-size="52.5" fill="#666" xml:space="preserve" >IL-12/IL-15</text>
<text transform="translate(467.46 323.00) rotate(-89.97) scale(0.1000 0.1)" x="-360.8 -330.8 -300.8 -270.8 -240.8 -210.8 -180.8 -150.8 -120.8 -90.8 -60.8 -30.8" y="0" font-family='"Liberation Mono", monospace' font-weight="normal" font-size="52.5" fill="#666" xml:space="preserve" >sHSP70+IL-7/</text>
<text transform="translate(475.26 324.50) rotate(-89.97) scale(0.1000 0.1)" x="-330.8 -300.8 -270.8 -240.8 -210.8 -180.8 -150.8 -120.8 -90.8 -60.8 -30.8" y="0" font-family='"Liberation Mono", monospace' font-weight="normal" font-size="52.5" fill="#666" xml:space="preserve" >IL-12/IL-15</text>
<text transform="translate(503.39 323.00) rotate(-89.97) scale(0.1000 0.1)" x="-90.7 -60.7 -30.7" y="0" font-family='"Liberation Mono", monospace' font-weight="normal" font-size="52.5" fill="#666" xml:space="preserve" >SEB</text>
<text transform="translate(366.20 194.20) rotate(0.03) scale(0.1150 0.1)" x="0.1 36.3 72.6" y="0" font-family='"Liberation Mono", monospace' font-weight="bold" font-size="60.3" fill="#111" xml:space="preserve"  stroke="#111" stroke-width="3.2">CD4</text>
<text transform="translate(380.46 189.20) rotate(0.03) scale(0.1000 0.1)" x="-10.8" y="0" font-family='"Liberation Mono", monospace' font-weight="bold" font-size="36.2" fill="#111" xml:space="preserve"  stroke="#111" stroke-width="3.2">+</text>
<text transform="translate(382.88 194.20) rotate(0.03) scale(0.1150 0.1)" x="0.1 36.3 72.6 108.8 145.1 181.4 217.6 253.9" y="0" font-family='"Liberation Mono", monospace' font-weight="bold" font-size="60.3" fill="#111" xml:space="preserve"  stroke="#111" stroke-width="3.2"> T cells</text>
<text transform="translate(265.30 206.40) rotate(0.03) scale(0.1)" font-family='"Liberation Sans", sans-serif' font-weight="bold" font-size="120.0" fill="#000" text-anchor="start">D</text>
<text transform="translate(270.80 261.70) rotate(-89.97) scale(0.1150 0.1)" x="-153.9 -123.1 -92.3 -61.5 -30.7 0.0 30.8 61.6 92.4 123.2" y="0" font-family='"Liberation Mono", monospace' font-weight="bold" font-size="51.2" fill="#222" xml:space="preserve"  stroke="#222" stroke-width="2.0">Granzyme B</text>
<text transform="translate(278.20 261.70) rotate(-89.97) scale(0.1150 0.1)" x="-200.0 -169.3 -138.5 -107.7 -76.9 -46.1 -15.3 15.4 46.2 77.0 107.8 138.6 169.3" y="0" font-family='"Liberation Mono", monospace' font-weight="bold" font-size="51.2" fill="#222" xml:space="preserve"  stroke="#222" stroke-width="2.0">increase fold</text>
<path d="M375.2 213.4V211.4H406.4V213.4" fill="none" stroke="#333" stroke-width="0.7"/>
<text transform="translate(391.20 211.20) rotate(0.03) scale(0.1000 0.1)" x="-23.5 1.7" y="0" font-family='"Liberation Mono", monospace' font-weight="bold" font-size="36.4" fill="#222" xml:space="preserve"  stroke="#222" stroke-width="3.2">**</text>
<path d="M439.2 290.0V288.2H470.7V290.0" fill="none" stroke="#333" stroke-width="0.7"/>
<text transform="translate(455.70 287.90) rotate(0.03) scale(0.1000 0.1)" x="-23.5 1.7" y="0" font-family='"Liberation Mono", monospace' font-weight="bold" font-size="36.4" fill="#222" xml:space="preserve"  stroke="#222" stroke-width="3.2">**</text>
</g>
</svg>
</body></html>
